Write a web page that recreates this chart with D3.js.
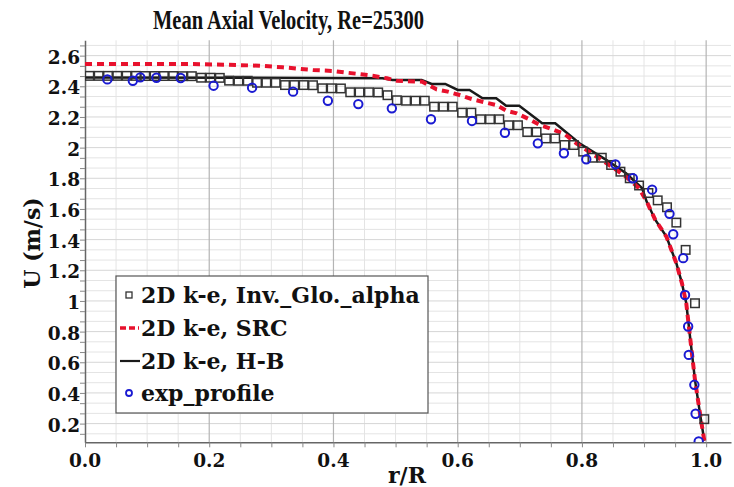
<!DOCTYPE html>
<html>
<head>
<meta charset="utf-8">
<script src="https://cdn.jsdelivr.net/npm/d3@7"></script>
<style>
  body { margin: 0; background: #fff; }
  svg text { font-family: "DejaVu Serif", serif; font-weight: bold; fill: #111; }
  svg text.title { font-family: "Liberation Serif", serif; }
</style>
</head>
<body>
<svg id="chart" width="734" height="487"></svg>
<script>
// CFD cell centres (r/R) shared by the simulated profiles
const rGrid = [
  0.007, 0.022, 0.037, 0.052, 0.067, 0.082, 0.097, 0.112, 0.127, 0.142,
  0.157, 0.172, 0.187, 0.202, 0.217, 0.232, 0.247, 0.262, 0.277, 0.292,
  0.307, 0.322, 0.337, 0.352, 0.367, 0.382, 0.397, 0.412, 0.427, 0.442,
  0.457, 0.472, 0.487, 0.502, 0.517, 0.532, 0.547, 0.562, 0.577, 0.592,
  0.607, 0.622, 0.637, 0.652, 0.667, 0.682, 0.697, 0.712, 0.727, 0.742,
  0.757, 0.772, 0.787, 0.802, 0.817, 0.832, 0.847, 0.862, 0.877, 0.892,
  0.907, 0.922, 0.937, 0.952, 0.967, 0.982, 0.997
];
// 2D k-e, Inv._Glo._alpha (squares)
const uInvGlo = [
  2.468, 2.468, 2.468, 2.468, 2.468, 2.468, 2.467, 2.467, 2.467, 2.467,
  2.466, 2.466, 2.456, 2.456, 2.455, 2.437, 2.436, 2.436, 2.423, 2.423,
  2.423, 2.408, 2.408, 2.408, 2.407, 2.387, 2.387, 2.386, 2.361, 2.361,
  2.361, 2.360, 2.342, 2.309, 2.306, 2.306, 2.306, 2.267, 2.267, 2.267,
  2.228, 2.228, 2.185, 2.185, 2.185, 2.146, 2.146, 2.102, 2.102, 2.060,
  2.060, 2.017, 2.017, 1.974, 1.934, 1.934, 1.887, 1.843, 1.800, 1.753,
  1.704, 1.656, 1.611, 1.511, 1.333, 0.985, 0.229
];

// 2D k-e, SRC (red dashed)
const rSrc = [0, 0.174, 0.228, 0.281, 0.318, 0.367, 0.399, 0.421, 0.442, 0.463,
  0.486, 0.502, 0.543, 0.566, 0.584, 0.603, 0.624, 0.646, 0.662, 0.678,
  0.695, 0.715, 0.732, 0.752, 0.772, 0.791, 0.807, 0.828, 0.849, 0.871,
  0.892, 0.904, 0.918, 0.936, 0.952, 0.961, 0.968, 0.974, 0.982, 0.990, 0.997];
const uSrc = [2.545, 2.545, 2.541, 2.534, 2.524, 2.506, 2.500, 2.489, 2.480, 2.469,
  2.452, 2.436, 2.430, 2.380, 2.365, 2.343, 2.315, 2.293, 2.278, 2.241,
  2.224, 2.185, 2.148, 2.120, 2.089, 2.028, 1.985, 1.930, 1.872, 1.810,
  1.735, 1.650, 1.530, 1.420, 1.246, 1.116, 0.985, 0.768, 0.485, 0.268, 0.088];

// 2D k-e, H-B (black solid)
const rHB = [0, 0.249, 0.479, 0.495, 0.542, 0.558, 0.580, 0.600, 0.619, 0.640,
  0.662, 0.678, 0.699, 0.736, 0.757, 0.796, 0.839, 0.871, 0.897, 0.904,
  0.918, 0.936, 0.952, 0.961, 0.968, 0.974, 0.982, 0.990, 0.997];
const uHB = [2.457, 2.456, 2.452, 2.441, 2.441, 2.415, 2.415, 2.376, 2.376, 2.322,
  2.322, 2.273, 2.273, 2.159, 2.159, 2.028, 1.920, 1.833, 1.735, 1.650,
  1.530, 1.420, 1.246, 1.116, 0.985, 0.768, 0.485, 0.268, 0.088];

// exp_profile (blue circles)
const rExp = [0.036, 0.077, 0.089, 0.115, 0.154, 0.207, 0.269, 0.335, 0.391, 0.440,
  0.494, 0.557, 0.623, 0.676, 0.729, 0.771, 0.807, 0.854, 0.882, 0.913,
  0.941, 0.947, 0.963, 0.966, 0.971, 0.972, 0.981, 0.983, 0.988];
const uExp = [2.445, 2.436, 2.458, 2.456, 2.454, 2.404, 2.391, 2.365, 2.306, 2.284,
  2.256, 2.185, 2.174, 2.097, 2.028, 1.963, 1.924, 1.891, 1.800, 1.726,
  1.568, 1.435, 1.279, 1.039, 0.833, 0.648, 0.453, 0.264, 0.083];

const xTicks = [0, 0.2, 0.4, 0.6, 0.8, 1.0];
const xTickLabels = ['0.0', '0.2', '0.4', '0.6', '0.8', '1.0'];
const yTicks = [0.2, 0.4, 0.6, 0.8, 1, 1.2, 1.4, 1.6, 1.8, 2, 2.2, 2.4, 2.6];
const yTickLabels = ['0.2', '0.4', '0.6', '0.8', '1', '1.2', '1.4', '1.6', '1.8', '2', '2.2', '2.4', '2.6'];

const legendLabels = ['2D k-e, Inv._Glo._alpha', '2D k-e, SRC', '2D k-e, H-B', 'exp_profile'];

const svg = d3.select('#chart');
const plotL = 85, plotR = 731, plotT = 40.3, plotB = 442.3;

const x = d3.scaleLinear().domain([0, 1.04]).range([plotL, plotR]);
const y = d3.scaleLinear().domain([0.078, 2.7]).range([plotB, plotT]);

// grid
const xMinor = d3.range(0, 1.0001, 0.05).filter(v => xTicks.every(t => Math.abs(t - v) > 1e-6));
const yMinor = d3.range(0, 2.7, 0.2 / 3).filter(v => v > 0.078 && yTicks.every(t => Math.abs(t - v) > 1e-6));

const grid = svg.append('g');
grid.selectAll('.ymin').data(yMinor).enter().append('line')
  .attr('x1', plotL).attr('x2', plotR).attr('y1', d => y(d)).attr('y2', d => y(d))
  .attr('stroke', '#e4e4e4').attr('stroke-width', 1);
grid.selectAll('.xmin').data(xMinor).enter().append('line')
  .attr('y1', plotT).attr('y2', plotB).attr('x1', d => x(d)).attr('x2', d => x(d))
  .attr('stroke', '#e4e4e4').attr('stroke-width', 1);
grid.selectAll('.ymaj').data(yTicks).enter().append('line')
  .attr('x1', plotL).attr('x2', plotR).attr('y1', d => y(d)).attr('y2', d => y(d))
  .attr('stroke', '#d6d6d6').attr('stroke-width', 1);
grid.selectAll('.xmaj').data(xTicks.slice(1)).enter().append('line')
  .attr('y1', plotT).attr('y2', plotB).attr('x1', d => x(d)).attr('x2', d => x(d))
  .attr('stroke', '#b4b4b4').attr('stroke-width', 1.2);

// axes
const xAxis = svg.append('g')
  .attr('transform', 'translate(0,' + plotB + ')')
  .call(d3.axisBottom(x).tickValues(d3.range(0, 1.0001, 0.05)).tickSize(5).tickFormat('').tickSizeOuter(0));
const yAxis = svg.append('g')
  .attr('transform', 'translate(' + plotL + ',0)')
  .call(d3.axisLeft(y).tickValues(yTicks.concat(yMinor)).tickSize(5).tickFormat('').tickSizeOuter(0));
[xAxis, yAxis].forEach(g => {
  g.select('.domain').attr('stroke', '#666').attr('stroke-width', 1.5);
  g.selectAll('.tick line').attr('stroke', '#888');
});

svg.append('g').selectAll('text').data(xTicks).enter().append('text')
  .attr('x', d => x(d)).attr('y', 467)
  .attr('text-anchor', 'middle').style('font-size', '18.5px')
  .text((d, i) => xTickLabels[i]);
svg.append('g').selectAll('text').data(yTicks).enter().append('text')
  .attr('x', 80).attr('y', d => y(d) + 8)
  .attr('text-anchor', 'end').style('font-size', '18.5px')
  .text((d, i) => yTickLabels[i]);

// titles
svg.append('text').attr('class', 'title').attr('x', 288.5).attr('y', 28.5).attr('text-anchor', 'middle')
  .style('font-size', '27px').attr('textLength', 271).attr('lengthAdjust', 'spacingAndGlyphs')
  .text('Mean Axial Velocity, Re=25300');
svg.append('text').attr('x', 407).attr('y', 483).attr('text-anchor', 'middle')
  .style('font-size', '22px').text('r/R');
svg.append('text').attr('transform', 'translate(40,243) rotate(-90)').attr('text-anchor', 'middle')
  .style('font-size', '22px').text('U (m/s)');

// data
svg.append('clipPath').attr('id', 'plotClip').append('rect')
  .attr('x', plotL).attr('y', plotT).attr('width', plotR - plotL).attr('height', plotB - plotT);
const plot = svg.append('g').attr('clip-path', 'url(#plotClip)');

const line = d3.line().x(d => x(d[0])).y(d => y(d[1]));

plot.append('path').datum(d3.zip(rHB, uHB)).attr('d', line)
  .attr('fill', 'none').attr('stroke', '#1a1a1a').attr('stroke-width', 2.5);
plot.append('path').datum(d3.zip(rSrc, uSrc)).attr('d', line)
  .attr('fill', 'none').attr('stroke', '#e8112d').attr('stroke-width', 4)
  .attr('stroke-dasharray', '7,5');

plot.selectAll('.sq').data(d3.zip(rGrid, uInvGlo)).enter().append('rect')
  .attr('x', d => x(d[0]) - 4.25).attr('y', d => y(d[1]) - 4.25)
  .attr('width', 8.5).attr('height', 8.5)
  .attr('fill', 'none').attr('stroke', '#333').attr('stroke-width', 1.5);

plot.selectAll('.ci').data(d3.zip(rExp, uExp)).enter().append('circle')
  .attr('cx', d => x(d[0])).attr('cy', d => y(d[1])).attr('r', 4.2)
  .attr('fill', 'none').attr('stroke', '#1a1ad2').attr('stroke-width', 2);

// legend
const lg = svg.append('g');
lg.append('rect').attr('x', 116).attr('y', 276).attr('width', 312).attr('height', 137)
  .attr('fill', '#fff').attr('stroke', '#555').attr('stroke-width', 1.2);
const rowY = [295, 328, 361, 393];
lg.selectAll('text').data(legendLabels).enter().append('text')
  .attr('x', 141).attr('y', (d, i) => rowY[i] + 7.5)
  .style('font-size', '22px').text(d => d);
lg.append('rect').attr('x', 126).attr('y', rowY[0] - 3).attr('width', 6).attr('height', 6)
  .attr('fill', 'none').attr('stroke', '#333').attr('stroke-width', 1.3);
lg.append('line').attr('x1', 120).attr('x2', 139).attr('y1', rowY[1]).attr('y2', rowY[1])
  .attr('stroke', '#e8112d').attr('stroke-width', 3.5).attr('stroke-dasharray', '6,3');
lg.append('line').attr('x1', 120).attr('x2', 140).attr('y1', rowY[2]).attr('y2', rowY[2])
  .attr('stroke', '#1a1a1a').attr('stroke-width', 2.2);
lg.append('circle').attr('cx', 129).attr('cy', rowY[3]).attr('r', 3)
  .attr('fill', 'none').attr('stroke', '#1a1ad2').attr('stroke-width', 1.8);
</script>
</body>
</html>
